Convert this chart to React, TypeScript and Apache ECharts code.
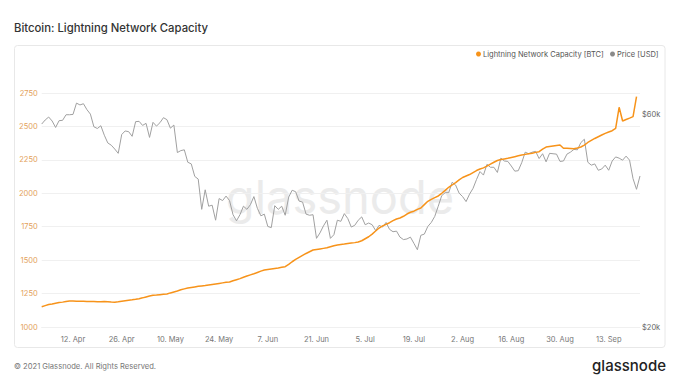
import React, { useEffect, useRef } from "react";
import * as echarts from "echarts";

// Daily dates Apr 3 2021 .. Sep 22 2021 (173 days)
const START_DATE = "2021-04-03";
const DAY_COUNT = 173;
const MONTHS = ["Jan", "Feb", "Mar", "Apr", "May", "Jun", "Jul", "Aug", "Sep", "Oct", "Nov", "Dec"];
const LABEL_DATES = ["12. Apr", "26. Apr", "10. May", "24. May", "7. Jun", "21. Jun", "5. Jul", "19. Jul", "2. Aug", "16. Aug", "30. Aug", "13. Sep"];

const capacityBTC: (number | null)[] = [
  1152, 1160, 1168, 1172, 1178, 1183, 1186, 1190, 1194, 1195,
  1193, 1192, 1193, 1191, 1190, 1191, 1189, 1188, 1190, 1189,
  1187, 1186, 1188, 1192, 1196, 1200, 1203, 1207, 1212, 1218,
  1225, 1232, 1238, 1239, 1242, 1245, 1247, 1255, 1262, 1269,
  1278, 1285, 1292, 1296, 1300, 1304, 1307, 1310, 1314, 1318,
  1322, 1326, 1330, 1334, 1337, 1346, 1354, 1362, 1372, 1381,
  1390, 1398, 1408, 1418, 1426, 1430, 1434, 1438, 1442, 1447,
  1451, 1468, 1488, 1505, 1520, 1535, 1550, 1563, 1576, 1580,
  1584, 1588, 1592, 1600, 1608, 1614, 1617, 1620, 1624, 1628,
  1631, 1636, 1645, 1660, 1675, 1695, 1718, 1740, 1756, 1768,
  1780, 1795, 1808, 1815, 1828, 1845, 1858, 1866, 1880, 1890,
  1915, 1940, 1955, 1968, 1980, 2000, 2022, 2045, 2062, 2080,
  2100, 2118, 2129, 2140, 2155, 2170, 2182, 2190, 2203, 2218,
  2232, 2245, 2252, 2257, 2262, 2268, 2274, 2280, 2286, 2291,
  2296, 2300, 2306, 2311, 2330, 2346, 2350, 2354, 2358, 2361,
  2337, 2336, 2335, 2333, 2338, 2346, 2360, 2380, 2395, 2410,
  2423, 2436, 2448, 2458, 2468, 2485, 2643, 2541, 2552, 2562,
  2573, 2722, null,
];

const priceUSD: number[] = [
  57000, 58200, 59100, 57900, 56000, 58000, 58100, 59800, 59800, 59900,
  63500, 62900, 63300, 61400, 60000, 56200, 55700, 56500, 53800, 51700,
  51100, 50100, 49000, 54000, 55000, 54800, 53500, 57700, 57800, 56600,
  57200, 53200, 57500, 56400, 57400, 58900, 58300, 55800, 56700, 49200,
  49700, 49900, 46800, 46400, 43500, 42900, 36700, 40600, 37300, 37500,
  34700, 38800, 38400, 39300, 38400, 35700, 34600, 35700, 37300, 36700,
  37600, 39200, 36900, 35500, 35800, 33600, 33400, 37400, 36700, 37300,
  35600, 39100, 40500, 40200, 38300, 38100, 35800, 35600, 35700, 31600,
  32500, 33700, 34700, 31600, 32200, 34700, 34500, 35900, 35000, 33500,
  33800, 34700, 35300, 33900, 34200, 33900, 32900, 33800, 33500, 34300,
  33100, 32700, 32800, 31800, 31400, 31500, 31800, 30800, 29800, 32100,
  32300, 33600, 34300, 35400, 37300, 39400, 40000, 40000, 42200, 41600,
  39900, 39200, 38200, 39700, 40900, 42800, 44600, 43800, 46300, 45600,
  45600, 44400, 47800, 47100, 47000, 45900, 44700, 44800, 46700, 49300,
  48900, 49300, 49500, 47700, 48900, 46900, 49000, 48900, 48800, 47000,
  47100, 48800, 49300, 50000, 49900, 51800, 52700, 46800, 46100, 46400,
  44900, 45200, 46100, 44900, 47100, 48100, 47800, 47300, 48300, 47300,
  43000, 40700, 43600,
];

const leftTicks = { min: 1000, max: 2750, interval: 250 };
const priceLabels = [20000, 60000];
const priceRange = { min: 20000, max: 66900 };
const SERIES_NAMES = ["Lightning Network Capacity [BTC]", "Price [USD]"];

function buildDates(): string[] {
  const out: string[] = [];
  const d0 = new Date(START_DATE + "T00:00:00Z");
  for (let i = 0; i < DAY_COUNT; i++) {
    const d = new Date(d0.getTime() + i * 86400000);
    out.push(d.getUTCDate() + ". " + MONTHS[d.getUTCMonth()]);
  }
  return out;
}

export default function App() {
  const ref = useRef<HTMLDivElement>(null);
  useEffect(() => {
    if (!ref.current) return;
    const chart = echarts.init(ref.current, undefined, { renderer: "svg" });
    const dates = buildDates();
    const font = "Inter, 'Noto Sans', sans-serif";
    const legendBase = {
      top: 50,
      padding: 0,
      icon: "circle",
      itemWidth: 5,
      itemHeight: 5,
      textStyle: { fontSize: 7.5, color: "#555", fontFamily: font, padding: [0, 0, 0, -3] },
    };
    chart.setOption({
      animation: false,
      backgroundColor: "#ffffff",
      textStyle: { fontFamily: font },
      title: {
        text: "Bitcoin: Lightning Network Capacity",
        left: 9,
        top: 17,
        textStyle: { fontSize: 11.3, fontWeight: 500, color: "#333", fontFamily: font },
      },
      legend: [
        { ...legendBase, left: 476, data: [SERIES_NAMES[0]] },
        { ...legendBase, left: 610, data: [SERIES_NAMES[1]] },
      ],
      graphic: [
        {
          type: "rect",
          shape: { x: 14.5, y: 45.5, width: 650.5, height: 302, r: 3 },
          style: { fill: "none", stroke: "#e8e8e8", lineWidth: 1 },
          silent: true,
          z: -10,
        },
        {
          type: "text",
          x: 340,
          y: 196,
          style: {
            text: "glassnode",
            font: "400 47px Inter, 'Noto Sans', sans-serif",
            fill: "#ebebeb",
            textAlign: "center",
            textVerticalAlign: "middle",
          },
          silent: true,
          z: -5,
        },
        {
          type: "text",
          x: 14,
          y: 366,
          style: {
            text: "© 2021 Glassnode. All Rights Reserved.",
            font: "7.6px Inter, 'Noto Sans', sans-serif",
            fill: "#777",
            textVerticalAlign: "middle",
          },
        },
        {
          type: "text",
          x: 666,
          y: 365,
          style: {
            text: "glassnode",
            font: "500 15px Inter, 'Noto Sans', sans-serif",
            fill: "#222",
            textAlign: "right",
            textVerticalAlign: "middle",
          },
        },
      ],
      grid: { left: 41.7, right: 40, top: 93, bottom: 56, containLabel: false },
      xAxis: {
        type: "category",
        data: dates,
        boundaryGap: false,
        axisLine: { show: true, lineStyle: { color: "#f0f0f0" } },
        axisTick: { show: false },
        splitLine: { show: false },
        axisLabel: {
          color: "#777",
          fontSize: 7.5,
          margin: 8,
          interval: (idx: number, val: string) => LABEL_DATES.indexOf(val) >= 0,
        },
      },
      yAxis: [
        {
          type: "value",
          min: leftTicks.min,
          max: leftTicks.max,
          interval: leftTicks.interval,
          axisLine: { show: false },
          axisTick: { show: false },
          splitLine: { show: true, lineStyle: { color: "#f0f0f0", width: 1 } },
          axisLabel: {
            color: "#e3a15b",
            fontSize: 7.5,
            margin: 4,
            formatter: (v: number) => String(v),
          },
        },
        {
          type: "log",
          logBase: 10,
          min: priceRange.min,
          max: priceRange.max,
          position: "right",
          axisLine: { show: false },
          axisTick: { show: false },
          splitLine: { show: false },
          axisLabel: {
            color: "#666",
            fontSize: 7.5,
            margin: 2,
            customValues: priceLabels,
            formatter: (v: number) => "$" + Math.round(v / 1000) + "k",
          },
        },
      ],
      series: [
        {
          name: SERIES_NAMES[0],
          type: "line",
          yAxisIndex: 0,
          data: capacityBTC,
          showSymbol: false,
          symbol: "circle",
          lineStyle: { color: "#f7931a", width: 1.5 },
          itemStyle: { color: "#f7931a" },
          z: 3,
        },
        {
          name: SERIES_NAMES[1],
          type: "line",
          yAxisIndex: 1,
          data: priceUSD,
          showSymbol: false,
          symbol: "circle",
          lineStyle: { color: "#a0a0a0", width: 1 },
          itemStyle: { color: "#8a8a8a" },
          z: 2,
        },
      ],
    });
    return () => chart.dispose();
  }, []);
  return <div ref={ref} style={{ width: 680, height: 383, position: "absolute", left: 0, top: 0 }} />;
}
